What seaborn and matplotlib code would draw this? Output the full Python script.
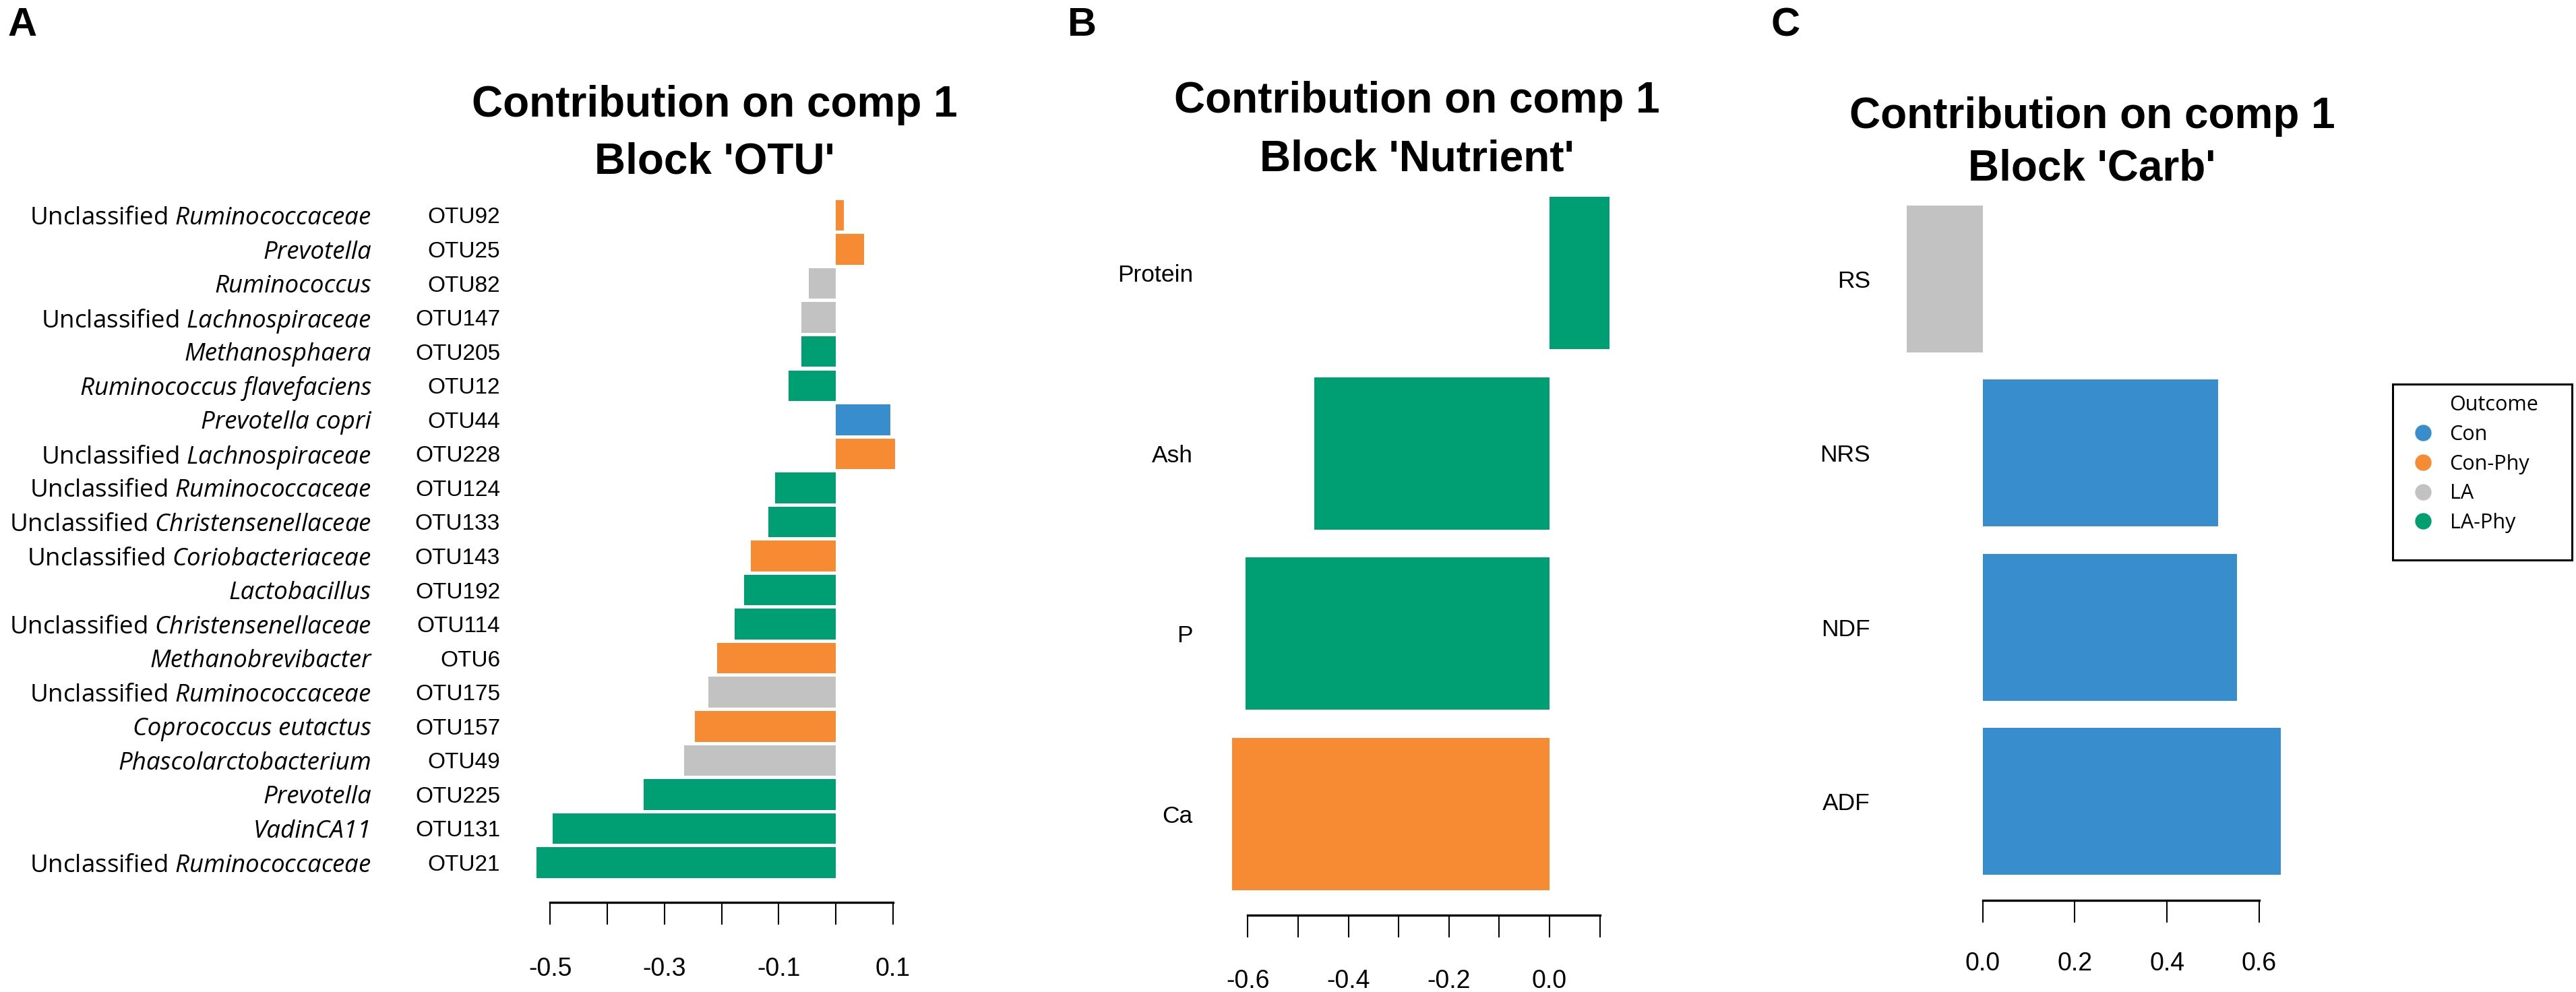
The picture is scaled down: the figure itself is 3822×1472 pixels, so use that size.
import matplotlib
matplotlib.use("Agg")
import matplotlib.pyplot as plt
import matplotlib.transforms as mtransforms
from matplotlib.lines import Line2D
from matplotlib.patches import Rectangle
import seaborn as sns
import pandas as pd

# ---------------- data ----------------
outcome_levels = ["Con", "Con-Phy", "LA", "LA-Phy"]
outcome_colors = ["#388ECC", "#F68B33", "#C2C2C2", "#009E73"]

otu_ids = ["OTU92", "OTU25", "OTU82", "OTU147", "OTU205", "OTU12", "OTU44", "OTU228",
           "OTU124", "OTU133", "OTU143", "OTU192", "OTU114", "OTU6", "OTU175", "OTU157",
           "OTU49", "OTU225", "OTU131", "OTU21"]
otu_prefix = ["Unclassified", "", "", "Unclassified", "", "", "", "Unclassified",
              "Unclassified", "Unclassified", "Unclassified", "", "Unclassified", "",
              "Unclassified", "", "", "", "", "Unclassified"]
otu_taxon = ["Ruminococcaceae", "Prevotella", "Ruminococcus", "Lachnospiraceae",
             "Methanosphaera", "Ruminococcus flavefaciens", "Prevotella copri",
             "Lachnospiraceae", "Ruminococcaceae", "Christensenellaceae",
             "Coriobacteriaceae", "Lactobacillus", "Christensenellaceae",
             "Methanobrevibacter", "Ruminococcaceae", "Coprococcus eutactus",
             "Phascolarctobacterium", "Prevotella", "VadinCA11", "Ruminococcaceae"]
otu_values = [0.014, 0.050, -0.047, -0.060, -0.060, -0.083, 0.096, 0.104,
              -0.106, -0.118, -0.149, -0.161, -0.177, -0.208, -0.223, -0.247,
              -0.266, -0.336, -0.496, -0.524]
otu_groups = ["Con-Phy", "Con-Phy", "LA", "LA", "LA-Phy", "LA-Phy", "Con", "Con-Phy",
              "LA-Phy", "LA-Phy", "Con-Phy", "LA-Phy", "LA-Phy", "Con-Phy", "LA",
              "Con-Phy", "LA", "LA-Phy", "LA-Phy", "LA-Phy"]
otu_ticks = [-0.5, -0.4, -0.3, -0.2, -0.1, 0.0, 0.1]
otu_ticklabels = ["-0.5", "", "-0.3", "", "-0.1", "", "0.1"]

nutr_names = ["Protein", "Ash", "P", "Ca"]
nutr_values = [0.119, -0.468, -0.604, -0.632]
nutr_groups = ["LA-Phy", "LA-Phy", "LA-Phy", "Con-Phy"]
nutr_ticks = [-0.6, -0.5, -0.4, -0.3, -0.2, -0.1, 0.0, 0.1]
nutr_ticklabels = ["-0.6", "", "-0.4", "", "-0.2", "", "0.0", ""]

carb_names = ["RS", "NRS", "NDF", "ADF"]
carb_values = [-0.164, 0.511, 0.552, 0.647]
carb_groups = ["LA", "Con", "Con", "Con"]
carb_ticks = [0.0, 0.2, 0.4, 0.6]
carb_ticklabels = ["0.0", "0.2", "0.4", "0.6"]

titles = ["Contribution on comp 1\nBlock 'OTU'",
          "Contribution on comp 1\nBlock 'Nutrient'",
          "Contribution on comp 1\nBlock 'Carb'"]
panel_letters = ["A", "B", "C"]

# ---------------- style ----------------
sns.set_theme(style="white")
plt.rcParams["font.family"] = ["Liberation Sans", "DejaVu Sans"]
plt.rcParams["mathtext.fontset"] = "custom"
plt.rcParams["mathtext.rm"] = "Open Sans"
plt.rcParams["mathtext.it"] = "Open Sans:italic"
plt.rcParams["mathtext.bf"] = "Open Sans:bold"
plt.rcParams["axes.unicode_minus"] = False
plt.rcParams["text.color"] = "black"
plt.rcParams["xtick.color"] = "black"
plt.rcParams["ytick.color"] = "black"

palette = dict(zip(outcome_levels, outcome_colors))

W, H = 3822, 1472
fig = plt.figure(figsize=(W / 100, H / 100), dpi=100)


def rect(l, t, r, b):
    return [l / W, 1 - b / H, (r - l) / W, (b - t) / H]


PX2PT = 0.72


def draw_panel(ax, names, values, groups, width, xlim, ticks, ticklabels,
               spine_px, pad_px, ylab_size, ylab_pad_px):
    df = pd.DataFrame({"name": names, "value": values, "group": groups})
    sns.barplot(data=df, x="value", y="name", hue="group", order=names,
                hue_order=outcome_levels, palette=palette, dodge=False,
                width=width, orient="h", errorbar=None, saturation=1,
                linewidth=0, legend=False, ax=ax)
    ax.set_xlim(*xlim)
    ax.set_ylim(len(names) - 0.5, -0.5)
    ax.set_xlabel("")
    ax.set_ylabel("")
    for s in ["top", "right", "left"]:
        ax.spines[s].set_visible(False)
    sp = ax.spines["bottom"]
    sp.set_visible(True)
    sp.set_color("black")
    sp.set_linewidth(2.4)
    sp.set_position(("outward", spine_px * PX2PT))
    sp.set_bounds(ticks[0], ticks[-1])
    ax.set_xticks(ticks)
    ax.set_xticklabels(ticklabels)
    ax.tick_params(axis="x", bottom=True, direction="out", length=33 * PX2PT,
                   width=1.5, pad=pad_px * PX2PT, labelsize=27, colors="black")
    ax.tick_params(axis="y", left=False, length=0, pad=ylab_pad_px * PX2PT,
                   labelsize=ylab_size, colors="black")
    ax.set_facecolor("none")


# Panel A
axA = fig.add_axes(rect(774.1, 294.2, 1350.1, 1305.3))
draw_panel(axA, otu_ids, otu_values, otu_groups, 0.9, (-0.55, 0.13),
           otu_ticks, otu_ticklabels, 33.7, 47.5, 24, 32)
trans = mtransforms.blended_transform_factory(fig.transFigure, axA.transData)
for i, (pre, tax) in enumerate(zip(otu_prefix, otu_taxon)):
    if pre:
        lab = pre + " " + r"$\mathit{" + tax.replace(" ", r"\ ") + "}$"
        axA.text(551 / W, i, lab, transform=trans, ha="right",
                 va="center_baseline", fontsize=26.5, family="Open Sans",
                 color="black")
    else:
        axA.text(551 / W, i, tax, transform=trans, ha="right",
                 va="center_baseline", fontsize=26.5, family="Open Sans",
                 fontstyle="italic", color="black")

# Panel B
axB = fig.add_axes(rect(1791.7, 271.4, 2418.4, 1341.3))
draw_panel(axB, nutr_names, nutr_values, nutr_groups, 0.845, (-0.68, 0.16),
           nutr_ticks, nutr_ticklabels, 16.7, 47.5, 25.5, 21.7)

# Panel C
axC = fig.add_axes(rect(2804.8, 284.8, 3420.4, 1318.2))
draw_panel(axC, carb_names, carb_values, carb_groups, 0.845, (-0.2, 0.7),
           carb_ticks, carb_ticklabels, 17.8, 42.5, 25.5, 29.8)

# Titles
title_pos = [(1060, 173, 258), (2102, 167, 253), (3104, 190, 268)]
for t, (cx, b1, b2) in zip(titles, title_pos):
    l1, l2 = t.split("\n")
    fig.text(cx / W, 1 - b1 / H, l1, ha="center", va="baseline", fontsize=46,
             fontweight="bold")
    fig.text(cx / W, 1 - b2 / H, l2, ha="center", va="baseline", fontsize=46,
             fontweight="bold")

# Panel letters
for letter, lx in zip(panel_letters, [12, 1584, 2628]):
    fig.text(lx / W, 1 - 10 / H, letter, ha="left", va="top", fontsize=43,
             fontweight="bold")

# Legend
handles = [Line2D([], [], linestyle="none", marker=None)]
labels = ["Outcome"]
for lev, col in zip(outcome_levels, outcome_colors):
    handles.append(Line2D([], [], linestyle="none", marker="o", markersize=16.5,
                          markerfacecolor=col, markeredgecolor=col))
    labels.append(lev)
fig.legend(handles, labels, loc="upper left",
           bbox_to_anchor=(3579.5 / W, 1 - 586 / H), frameon=False,
           prop={"family": "Open Sans", "size": 22}, handlelength=1.0,
           handletextpad=0.8, labelspacing=0.45, borderpad=0, borderaxespad=0)
fig.add_artist(Rectangle((3550 / W, 1 - 831 / H), 266 / W, (831 - 570) / H,
                         transform=fig.transFigure, fill=False,
                         edgecolor="black", linewidth=2.2))

fig.savefig("out.png", dpi=100, facecolor="white")
